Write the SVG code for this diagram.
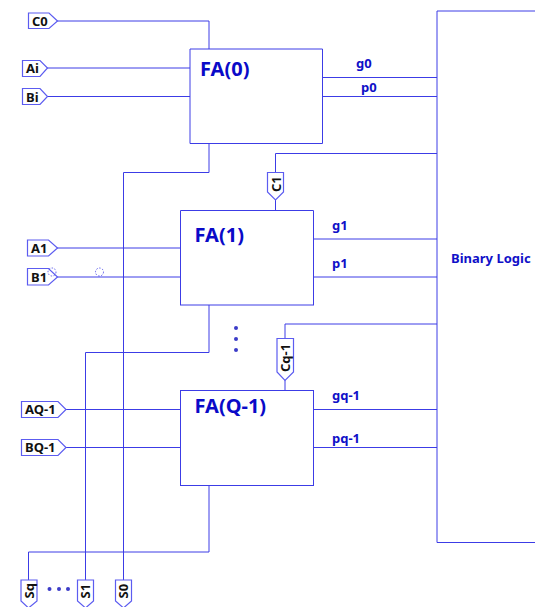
<svg xmlns="http://www.w3.org/2000/svg" width="535" height="607" viewBox="0 0 535 607">
<style>
.w{fill:none;stroke:#3c3ce6;stroke-width:1}
.b{fill:#fff;stroke:#3c3ce6;stroke-width:1}
.t{fill:#fff;stroke:#5c5cf0;stroke-width:1.2}
.k{font-family:"Noto Sans","Liberation Sans",sans-serif;font-weight:700;font-size:13px;fill:#111}
.l{font-family:"Noto Sans","Liberation Sans",sans-serif;font-weight:700;font-size:13px;fill:#1010c8}
.f{font-family:"Noto Sans","Liberation Sans",sans-serif;font-weight:700;font-size:20px;fill:#0a0ac8}
.d{fill:#3c3cc8}
</style>
<rect width="535" height="607" fill="#fff"/>
<g id="connectors">
<path class="w" d="M57 21H209V49"/>
<path class="w" d="M47 68H190"/>
<path class="w" d="M47 96.500H190"/>
<path class="w" d="M209 143V172.500H123.500V580"/>
<path class="w" d="M57 248H180"/>
<path class="w" d="M57 277H180"/>
<path class="w" d="M209 305V352.500H85.500V580"/>
<path class="w" d="M66 409.500H180"/>
<path class="w" d="M66 447.500H180"/>
<path class="w" d="M209 485V552H28.500V580"/>
<path class="w" d="M322 77.500H437"/>
<path class="w" d="M322 96.500H437"/>
<path class="w" d="M313 239H437"/>
<path class="w" d="M313 277H437"/>
<path class="w" d="M313 409.500H437"/>
<path class="w" d="M313 447.500H437"/>
<path class="w" d="M437 153.500H275.500V172M275.500 200V210"/>
<path class="w" d="M437 324H285V338M285 380V390"/>
</g>
<g id="binary-logic">
<path class="w" d="M535 11H437V542.500H535"/>
<text class="l" x="451" y="263">Binary Logic</text>
</g>
<g id="fa0">
<path class="w" d="M190 143.500V49H322.500V143.500H190"/>
<text class="f" x="200" y="75.500">FA(0)</text>
</g>
<g id="fa1">
<path class="w" d="M180.500 305V210.500H313.500V305"/>
<path class="w" d="M180 305H314"/>
<text class="f" x="194.500" y="241.500">FA(1)</text>
</g>
<g id="faq">
<rect class="b" x="180.500" y="390.500" width="133" height="95"/>
<text class="f" x="194.500" y="413">FA(Q-1)</text>
</g>
<g id="tag-c0"><path class="t" d="M28.500 13H49L57.500 21L49 28.500H28.500Z"/><text class="k" x="32" y="25.500">C0</text></g>
<g id="tag-ai"><path class="t" d="M22.500 60.500H40L47.500 68L40 76.500H22.500Z"/><text class="k" x="26" y="73">Ai</text></g>
<g id="tag-bi"><path class="t" d="M22.500 88.500H40L47.500 96.500L40 104.500H22.500Z"/><text class="k" x="26" y="101.500">Bi</text></g>
<g id="tag-a1"><path class="t" d="M27.500 240H48.500L57.500 248L48.500 256H27.500Z"/><text class="k" x="31" y="253">A1</text></g>
<g id="tag-b1"><path class="t" d="M27.500 268.500H48.500L57.500 277L48.500 285H27.500Z"/><text class="k" x="31" y="282">B1</text></g>
<g id="tag-aq"><path class="t" d="M21.500 401.500H58L66 409.500L58 417.500H21.500Z"/><text class="k" x="25" y="414">AQ-1</text></g>
<g id="tag-bq"><path class="t" d="M21.500 439.500H58L66 447.500L58 455.500H21.500Z"/><text class="k" x="25" y="452">BQ-1</text></g>
<g id="tag-sq"><path class="t" d="M21 580H37V601L28.500 608L21 601Z"/><text class="k" transform="translate(33.500 598.500) rotate(-90)" x="0" y="0">Sq</text></g>
<g id="tag-s1"><path class="t" d="M77.500 580H93.500V601L85.500 608L77.500 601Z"/><text class="k" transform="translate(90 598.500) rotate(-90)" x="0" y="0">S1</text></g>
<g id="tag-s0"><path class="t" d="M115.500 580H131.500V601L123.500 608L115.500 601Z"/><text class="k" transform="translate(128 598.500) rotate(-90)" x="0" y="0">S0</text></g>
<g id="tag-c1"><path class="t" d="M267.500 172.500H283.500V192L275.500 200L267.500 192Z"/><text class="k" transform="translate(280.500 192) rotate(-90)" x="0" y="0">C1</text></g>
<g id="tag-cq"><path class="t" d="M277 338.500H293.500V372L285 380.500L277 372Z"/><text class="k" transform="translate(289.500 372) rotate(-90)" x="0" y="0">Cq-1</text></g>
<g id="signal-labels">
<text class="l" x="356" y="68">g0</text>
<text class="l" x="361" y="92">p0</text>
<text class="l" x="332" y="230">g1</text>
<text class="l" x="332" y="268">p1</text>
<text class="l" x="332" y="400">gq-1</text>
<text class="l" x="332" y="443">pq-1</text>
</g>
<g id="ellipsis-dots">
<circle class="d" cx="236" cy="328" r="2"/><circle class="d" cx="236" cy="339" r="2"/><circle class="d" cx="236" cy="350" r="2"/>
<circle class="d" cx="49.500" cy="589" r="2"/><circle class="d" cx="59" cy="589" r="2"/><circle class="d" cx="68" cy="589" r="2"/>
</g>
<g id="handles" fill="none" stroke="#3c3ce6" stroke-width="0.8" stroke-dasharray="1.500 1.500">
<circle cx="99.500" cy="272" r="4"/>
<circle cx="52" cy="272" r="4"/>
</g>
</svg>
